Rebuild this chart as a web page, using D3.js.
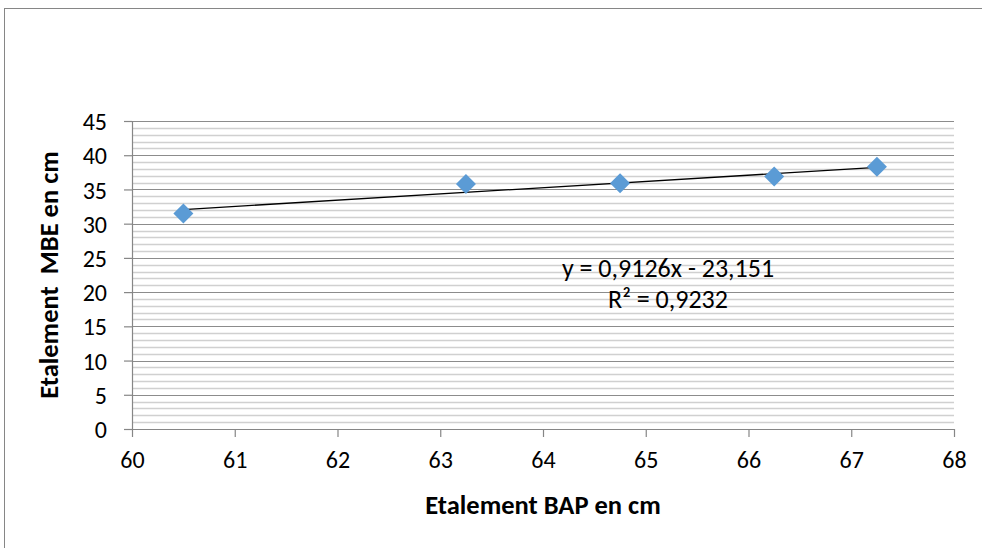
<!DOCTYPE html>
<html>
<head>
<meta charset="utf-8">
<script src="https://cdn.jsdelivr.net/npm/d3@7/dist/d3.min.js"></script>
<style>
  html, body { margin: 0; padding: 0; background: #ffffff; }
  svg text { font-family: Carlito, Calibri, Lato, "Open Sans", sans-serif; fill: #000; }
</style>
</head>
<body>
<svg id="chart" width="982" height="548"></svg>
<script>
// Etalement BAP (x) vs Etalement MBE (y), en cm
const bapValues = [60.5, 63.25, 64.75, 66.25, 67.25];
const mbeValues = [31.5, 35.8, 35.9, 36.9, 38.3];

// Linear trend line as reported in the chart label
const trendSlope = 0.9126;
const trendIntercept = -23.151;
const trendR2 = 0.9232;

const xTicks = [60, 61, 62, 63, 64, 65, 66, 67, 68];
const yTicks = [0, 5, 10, 15, 20, 25, 30, 35, 40, 45];
const yMinorTicks = d3.range(0, 46, 1);

const xTitle = "Etalement BAP en cm";
const yTitle = "Etalement\u00a0 MBE en cm";

const fmt = v => String(v).replace(".", ",");

const svg = d3.select("#chart");

const plot = { left: 132, right: 954, top: 121, bottom: 429 };

const x = d3.scaleLinear().domain([60, 68]).range([plot.left, plot.right]);
const y = d3.scaleLinear().domain([0, 45]).range([plot.bottom, plot.top]);

// Outer chart frame
svg.append("rect")
  .attr("x", 4.5).attr("y", 8.5)
  .attr("width", 1000).attr("height", 600)
  .attr("fill", "none").attr("stroke", "#868686").attr("stroke-width", 1);

// Minor horizontal gridlines
svg.append("g")
  .selectAll("line")
  .data(yMinorTicks.filter(v => v % 5 !== 0))
  .join("line")
  .attr("x1", plot.left).attr("x2", plot.right)
  .attr("y1", d => Math.round(y(d)) + 0.5).attr("y2", d => Math.round(y(d)) + 0.5)
  .attr("stroke", "#d0d0d0").attr("stroke-width", 1.4);

// Major horizontal gridlines
svg.append("g")
  .selectAll("line")
  .data(yTicks.filter(v => v > 0))
  .join("line")
  .attr("x1", plot.left).attr("x2", plot.right)
  .attr("y1", d => Math.round(y(d)) + 0.5).attr("y2", d => Math.round(y(d)) + 0.5)
  .attr("stroke", "#8c8c8c").attr("stroke-width", 1.2);

// Y axis
const yAxis = svg.append("g")
  .attr("transform", `translate(${plot.left},0)`)
  .call(d3.axisLeft(y).tickValues(yTicks).tickSize(8).tickPadding(17).tickFormat(d => d))
  .call(g => g.select(".domain").remove());
yAxis.selectAll(".tick line").attr("stroke", "#868686").attr("stroke-width", 1.2);
yAxis.selectAll(".tick text").style("font-size", "24px").attr("dy", "0.36em");
yAxis.append("line")
  .attr("x1", 0.5).attr("x2", 0.5).attr("y1", plot.top).attr("y2", plot.bottom)
  .attr("stroke", "#868686").attr("stroke-width", 1.2);

// X axis
const xAxis = svg.append("g")
  .attr("transform", `translate(0,${plot.bottom})`)
  .call(d3.axisBottom(x).tickValues(xTicks).tickSize(8).tickPadding(14).tickFormat(d => d))
  .call(g => g.select(".domain").remove());
xAxis.selectAll(".tick line").attr("stroke", "#868686").attr("stroke-width", 1.2);
xAxis.selectAll(".tick text").style("font-size", "24px");
xAxis.append("line")
  .attr("x1", plot.left).attr("x2", plot.right).attr("y1", 0.5).attr("y2", 0.5)
  .attr("stroke", "#868686").attr("stroke-width", 1.2);

// Trend line across the observed x range
const xMin = d3.min(bapValues), xMax = d3.max(bapValues);
svg.append("line")
  .attr("x1", x(xMin)).attr("y1", y(trendSlope * xMin + trendIntercept))
  .attr("x2", x(xMax)).attr("y2", y(trendSlope * xMax + trendIntercept))
  .attr("stroke", "#000").attr("stroke-width", 1.3);

// Data markers (diamonds)
const diamond = d3.symbol().type(d3.symbolSquare).size(200);
svg.append("g")
  .selectAll("path")
  .data(bapValues.map((v, i) => [v, mbeValues[i]]))
  .join("path")
  .attr("d", diamond)
  .attr("transform", d => `translate(${x(d[0])},${y(d[1])}) rotate(45)`)
  .attr("fill", "#5b9bd5");

// Trend equation label
const eq = svg.append("text")
  .attr("x", 668).attr("y", 277)
  .attr("text-anchor", "middle")
  .style("font-size", "26px");
eq.append("tspan").attr("x", 668).attr("dy", 0)
  .text(`y = ${fmt(trendSlope)}x - ${fmt(-trendIntercept)}`);
eq.append("tspan").attr("x", 668).attr("dy", 31)
  .text(`R² = ${fmt(trendR2)}`);

// Axis titles
svg.append("text")
  .attr("x", (plot.left + plot.right) / 2).attr("y", 514)
  .attr("text-anchor", "middle")
  .style("font-size", "26.5px").style("font-weight", "bold")
  .text(xTitle);

svg.append("text")
  .attr("transform", `translate(58,${(plot.top + plot.bottom) / 2}) rotate(-90)`)
  .attr("text-anchor", "middle")
  .style("font-size", "26.5px").style("font-weight", "bold")
  .text(yTitle);
</script>
</body>
</html>
